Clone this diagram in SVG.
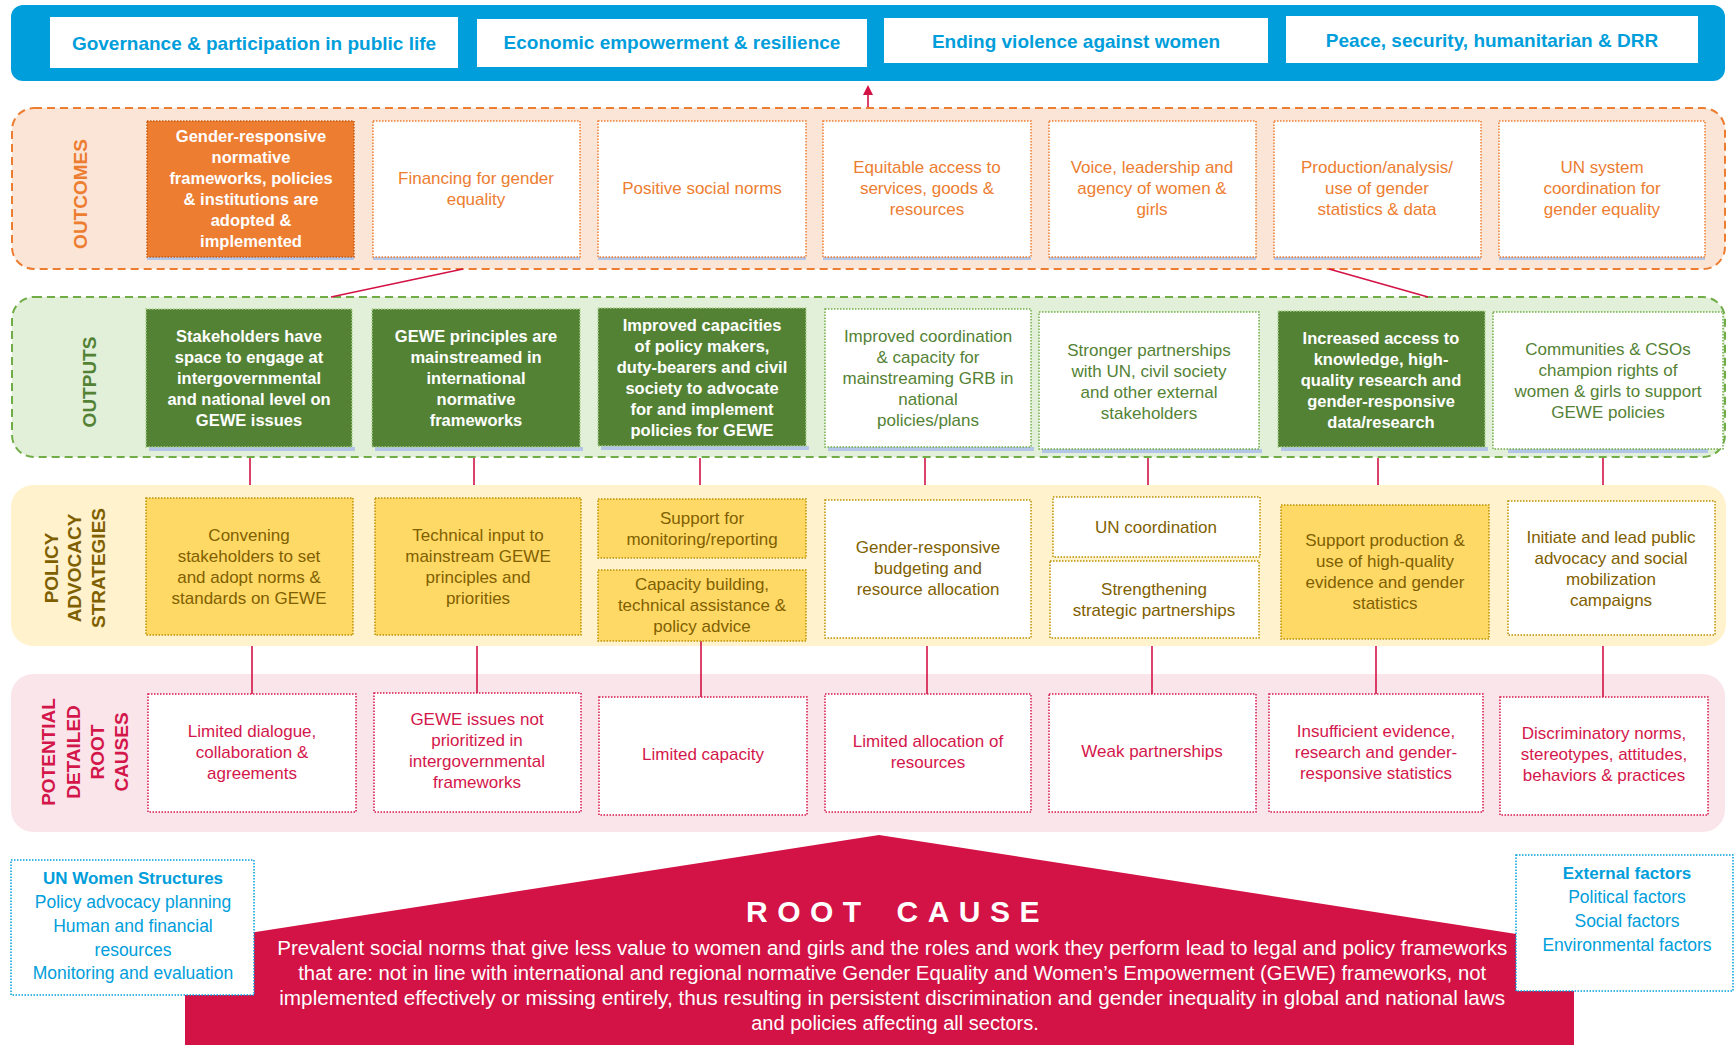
<svg xmlns="http://www.w3.org/2000/svg" width="1736" height="1045" viewBox="0 0 1736 1045">
<defs>
<marker id="arr" markerWidth="10" markerHeight="10" refX="5" refY="5" orient="auto" markerUnits="userSpaceOnUse">
<path d="M0,0 L10,5 L0,10 z" fill="#D31245"/>
</marker>
<style>
text{font-family:'Liberation Sans',Arial,sans-serif;text-anchor:middle}
.goal{font-weight:bold;font-size:19px;fill:#009EDB}
.lab{font-weight:bold;font-size:19px}
.bw{font-weight:bold;font-size:16.5px;fill:#FFFFFF}
.oc{font-size:17px;fill:#ED7D31}
.op{font-size:17px;fill:#548235}
.st{font-size:17px;fill:#7F6000}
.rc{font-size:17px;fill:#D4174B}
.box{stroke-width:1.5;stroke-dasharray:1.5 1.5}
.ocw{fill:#FFFFFF;stroke:#ED7D31}
.opw{fill:#FFFFFF;stroke:#70AD47}
.opg{fill:#548235;stroke:#A9D18E}
.sty{fill:#FFD966;stroke:#BF9000}
.stw{fill:#FFFFFF;stroke:#BF9000}
.rcw{fill:#FFFFFF;stroke:#D4174B}
.sh{fill:#B4C6E7}
.con{stroke:#D31245;stroke-width:1.6;fill:none}
.blue{fill:#009EDB;font-size:17.5px}
</style>
</defs>
<rect width="1736" height="1045" fill="#FFFFFF"/>

<!-- top goals bar -->
<g id="impact-bar">
<rect x="11" y="5" width="1714" height="76" rx="12" fill="#009EDB"/>
</g>
<g id="goal-governance"><rect x="50" y="17" width="408" height="51" fill="#FFFFFF"/><text class="goal" x="254" y="50">Governance &amp; participation in public life</text></g>
<g id="goal-economic"><rect x="477" y="19" width="390" height="48" fill="#FFFFFF"/><text class="goal" x="672" y="49">Economic empowerment &amp; resilience</text></g>
<g id="goal-evaw"><rect x="884" y="18" width="384" height="45" fill="#FFFFFF"/><text class="goal" x="1076" y="48">Ending violence against women</text></g>
<g id="goal-peace"><rect x="1286" y="16" width="412" height="47" fill="#FFFFFF"/><text class="goal" x="1492" y="47">Peace, security, humanitarian &amp; DRR</text></g>

<!-- bands -->
<g id="band-outcomes">
<rect x="12" y="108" width="1713" height="161" rx="22" fill="#FBE5D6" stroke="#ED7D31" stroke-width="2" stroke-dasharray="8 5"/>
<text class="lab" fill="#ED7D31" transform="rotate(-90)" x="-194" y="87">OUTCOMES</text>
</g>
<g id="band-outputs">
<rect x="12" y="297" width="1713" height="160" rx="22" fill="#E2F0D9" stroke="#70AD47" stroke-width="2" stroke-dasharray="8 5"/>
<text class="lab" fill="#548235" transform="rotate(-90)" x="-382" y="96">OUTPUTS</text>
</g>
<g id="band-strategies">
<rect x="11" y="485" width="1715" height="161" rx="22" fill="#FFF2CC"/>
<text class="lab" fill="#7F6000" transform="rotate(-90)" x="-568" y="58">POLICY</text>
<text class="lab" fill="#7F6000" transform="rotate(-90)" x="-568" y="81">ADVOCACY</text>
<text class="lab" fill="#7F6000" transform="rotate(-90)" x="-568" y="105">STRATEGIES</text>
</g>
<g id="band-rootcauses">
<rect x="11" y="674" width="1714" height="158" rx="22" fill="#F9E5EA"/>
<text class="lab" fill="#D4174B" transform="rotate(-90)" x="-752" y="55">POTENTIAL</text>
<text class="lab" fill="#D4174B" transform="rotate(-90)" x="-752" y="80">DETAILED</text>
<text class="lab" fill="#D4174B" transform="rotate(-90)" x="-752" y="104">ROOT</text>
<text class="lab" fill="#D4174B" transform="rotate(-90)" x="-752" y="128">CAUSES</text>
</g>

<!-- connectors -->
<g id="connectors">
<line class="con" x1="868" y1="107" x2="868" y2="90" marker-end="url(#arr)"/>
<line class="con" x1="463" y1="269" x2="331" y2="297"/>
<line class="con" x1="1329" y1="269" x2="1428" y2="297"/>
<line class="con" x1="250" y1="458" x2="250" y2="485"/>
<line class="con" x1="474" y1="458" x2="474" y2="485"/>
<line class="con" x1="700" y1="458" x2="700" y2="485"/>
<line class="con" x1="925" y1="458" x2="925" y2="485"/>
<line class="con" x1="1148" y1="458" x2="1148" y2="485"/>
<line class="con" x1="1378" y1="458" x2="1378" y2="485"/>
<line class="con" x1="1603" y1="458" x2="1603" y2="485"/>
<line class="con" x1="252" y1="646" x2="252" y2="694"/>
<line class="con" x1="477" y1="646" x2="477" y2="693"/>
<line class="con" x1="701" y1="641" x2="701" y2="697"/>
<line class="con" x1="927" y1="646" x2="927" y2="694"/>
<line class="con" x1="1152" y1="646" x2="1152" y2="694"/>
<line class="con" x1="1376" y1="646" x2="1376" y2="694"/>
<line class="con" x1="1603" y1="646" x2="1603" y2="697"/>
</g>

<!-- outcomes -->
<g id="outcome-1"><rect class="sh" x="147" y="256" width="207" height="4"/><rect class="box" x="147" y="121" width="207" height="136" fill="#ED7D31" stroke="#C55A11"/>
<text class="bw"><tspan x="251" y="142">Gender-responsive</tspan><tspan x="251" y="163">normative</tspan><tspan x="251" y="184">frameworks, policies</tspan><tspan x="251" y="205">&amp; institutions are</tspan><tspan x="251" y="226">adopted &amp;</tspan><tspan x="251" y="247">implemented</tspan></text></g>
<g id="outcome-2"><rect class="sh" x="373" y="256" width="207" height="4"/><rect class="box ocw" x="373" y="121" width="207" height="136"/>
<text class="oc"><tspan x="476" y="184">Financing for gender</tspan><tspan x="476" y="205">equality</tspan></text></g>
<g id="outcome-3"><rect class="sh" x="598" y="256" width="208" height="4"/><rect class="box ocw" x="598" y="121" width="208" height="136"/>
<text class="oc"><tspan x="702" y="194">Positive social norms</tspan></text></g>
<g id="outcome-4"><rect class="sh" x="823" y="256" width="208" height="4"/><rect class="box ocw" x="823" y="121" width="208" height="136"/>
<text class="oc"><tspan x="927" y="173">Equitable access to</tspan><tspan x="927" y="194">services, goods &amp;</tspan><tspan x="927" y="215">resources</tspan></text></g>
<g id="outcome-5"><rect class="sh" x="1049" y="256" width="207" height="4"/><rect class="box ocw" x="1049" y="121" width="207" height="136"/>
<text class="oc"><tspan x="1152" y="173">Voice, leadership and</tspan><tspan x="1152" y="194">agency of women &amp;</tspan><tspan x="1152" y="215">girls</tspan></text></g>
<g id="outcome-6"><rect class="sh" x="1274" y="256" width="207" height="4"/><rect class="box ocw" x="1274" y="121" width="207" height="136"/>
<text class="oc"><tspan x="1377" y="173">Production/analysis/</tspan><tspan x="1377" y="194">use of gender</tspan><tspan x="1377" y="215">statistics &amp; data</tspan></text></g>
<g id="outcome-7"><rect class="sh" x="1499" y="256" width="206" height="4"/><rect class="box ocw" x="1499" y="121" width="206" height="136"/>
<text class="oc"><tspan x="1602" y="173">UN system</tspan><tspan x="1602" y="194">coordination for</tspan><tspan x="1602" y="215">gender equality</tspan></text></g>

<!-- outputs -->
<g id="output-1"><rect class="sh" x="149" y="447" width="206" height="4"/><rect class="box opg" x="146" y="309" width="206" height="138"/>
<text class="bw"><tspan x="249" y="342">Stakeholders have</tspan><tspan x="249" y="363">space to engage at</tspan><tspan x="249" y="384">intergovernmental</tspan><tspan x="249" y="405">and national level on</tspan><tspan x="249" y="426">GEWE issues</tspan></text></g>
<g id="output-2"><rect class="sh" x="375" y="447" width="208" height="4"/><rect class="box opg" x="372" y="309" width="208" height="138"/>
<text class="bw"><tspan x="476" y="342">GEWE principles are</tspan><tspan x="476" y="363">mainstreamed in</tspan><tspan x="476" y="384">international</tspan><tspan x="476" y="405">normative</tspan><tspan x="476" y="426">frameworks</tspan></text></g>
<g id="output-3"><rect class="sh" x="601" y="446" width="208" height="4"/><rect class="box opg" x="598" y="308" width="208" height="138"/>
<text class="bw"><tspan x="702" y="331">Improved capacities</tspan><tspan x="702" y="352">of policy makers,</tspan><tspan x="702" y="373">duty-bearers and civil</tspan><tspan x="702" y="394">society to advocate</tspan><tspan x="702" y="415">for and implement</tspan><tspan x="702" y="436">policies for GEWE</tspan></text></g>
<g id="output-4"><rect class="sh" x="828" y="447" width="206" height="4"/><rect class="box opw" x="825" y="309" width="206" height="138"/>
<text class="op"><tspan x="928" y="342">Improved coordination</tspan><tspan x="928" y="363">&amp; capacity for</tspan><tspan x="928" y="384">mainstreaming GRB in</tspan><tspan x="928" y="405">national</tspan><tspan x="928" y="426">policies/plans</tspan></text></g>
<g id="output-5"><rect class="sh" x="1042" y="449" width="220" height="4"/><rect class="box opw" x="1039" y="312" width="220" height="137"/>
<text class="op"><tspan x="1149" y="356">Stronger partnerships</tspan><tspan x="1149" y="377">with UN, civil society</tspan><tspan x="1149" y="398">and other external</tspan><tspan x="1149" y="419">stakeholders</tspan></text></g>
<g id="output-6"><rect class="sh" x="1281" y="447" width="207" height="4"/><rect class="box opg" x="1278" y="311" width="207" height="136"/>
<text class="bw"><tspan x="1381" y="344">Increased access to</tspan><tspan x="1381" y="365">knowledge, high-</tspan><tspan x="1381" y="386">quality research and</tspan><tspan x="1381" y="407">gender-responsive</tspan><tspan x="1381" y="428">data/research</tspan></text></g>
<g id="output-7"><rect class="sh" x="1508" y="449" width="200" height="4"/><rect class="box opw" x="1493" y="312" width="230" height="137"/>
<text class="op"><tspan x="1608" y="355">Communities &amp; CSOs</tspan><tspan x="1608" y="376">champion rights of</tspan><tspan x="1608" y="397">women &amp; girls to support</tspan><tspan x="1608" y="418">GEWE policies</tspan></text></g>

<!-- strategies -->
<g id="strategy-1"><rect class="box sty" x="146" y="498" width="207" height="137"/>
<text class="st"><tspan x="249" y="541">Convening</tspan><tspan x="249" y="562">stakeholders to set</tspan><tspan x="249" y="583">and adopt norms &amp;</tspan><tspan x="249" y="604">standards on GEWE</tspan></text></g>
<g id="strategy-2"><rect class="box sty" x="375" y="498" width="206" height="137"/>
<text class="st"><tspan x="478" y="541">Technical input to</tspan><tspan x="478" y="562">mainstream GEWE</tspan><tspan x="478" y="583">principles and</tspan><tspan x="478" y="604">priorities</tspan></text></g>
<g id="strategy-3a"><rect class="box sty" x="598" y="499" width="208" height="59"/>
<text class="st"><tspan x="702" y="524">Support for</tspan><tspan x="702" y="545">monitoring/reporting</tspan></text></g>
<g id="strategy-3b"><rect class="box sty" x="598" y="570" width="208" height="71"/>
<text class="st"><tspan x="702" y="590">Capacity building,</tspan><tspan x="702" y="611">technical assistance &amp;</tspan><tspan x="702" y="632">policy advice</tspan></text></g>
<g id="strategy-4"><rect class="box stw" x="825" y="500" width="206" height="138"/>
<text class="st"><tspan x="928" y="553">Gender-responsive</tspan><tspan x="928" y="574">budgeting and</tspan><tspan x="928" y="595">resource allocation</tspan></text></g>
<g id="strategy-5a"><rect class="box stw" x="1053" y="497" width="207" height="60"/>
<text class="st"><tspan x="1156" y="533">UN coordination</tspan></text></g>
<g id="strategy-5b"><rect class="box stw" x="1050" y="561" width="209" height="77"/>
<text class="st"><tspan x="1154" y="595">Strengthening</tspan><tspan x="1154" y="616">strategic partnerships</tspan></text></g>
<g id="strategy-6"><rect class="box sty" x="1281" y="505" width="208" height="134"/>
<text class="st"><tspan x="1385" y="546">Support production &amp;</tspan><tspan x="1385" y="567">use of high-quality</tspan><tspan x="1385" y="588">evidence and gender</tspan><tspan x="1385" y="609">statistics</tspan></text></g>
<g id="strategy-7"><rect class="box stw" x="1508" y="501" width="207" height="134"/>
<text class="st"><tspan x="1611" y="543">Initiate and lead public</tspan><tspan x="1611" y="564">advocacy and social</tspan><tspan x="1611" y="585">mobilization</tspan><tspan x="1611" y="606">campaigns</tspan></text></g>

<!-- root causes -->
<g id="rootcause-1"><rect class="box rcw" x="148" y="694" width="208" height="118"/>
<text class="rc"><tspan x="252" y="737">Limited dialogue,</tspan><tspan x="252" y="758">collaboration &amp;</tspan><tspan x="252" y="779">agreements</tspan></text></g>
<g id="rootcause-2"><rect class="box rcw" x="374" y="693" width="207" height="119"/>
<text class="rc"><tspan x="477" y="725">GEWE issues not</tspan><tspan x="477" y="746">prioritized in</tspan><tspan x="477" y="767">intergovernmental</tspan><tspan x="477" y="788">frameworks</tspan></text></g>
<g id="rootcause-3"><rect class="box rcw" x="599" y="697" width="208" height="118"/>
<text class="rc"><tspan x="703" y="760">Limited capacity</tspan></text></g>
<g id="rootcause-4"><rect class="box rcw" x="825" y="694" width="206" height="118"/>
<text class="rc"><tspan x="928" y="747">Limited allocation of</tspan><tspan x="928" y="768">resources</tspan></text></g>
<g id="rootcause-5"><rect class="box rcw" x="1049" y="694" width="207" height="118"/>
<text class="rc"><tspan x="1152" y="757">Weak partnerships</tspan></text></g>
<g id="rootcause-6"><rect class="box rcw" x="1269" y="694" width="214" height="118"/>
<text class="rc"><tspan x="1376" y="737">Insufficient evidence,</tspan><tspan x="1376" y="758">research and gender-</tspan><tspan x="1376" y="779">responsive statistics</tspan></text></g>
<g id="rootcause-7"><rect class="box rcw" x="1500" y="697" width="208" height="118"/>
<text class="rc"><tspan x="1604" y="739">Discriminatory norms,</tspan><tspan x="1604" y="760">stereotypes, attitudes,</tspan><tspan x="1604" y="781">behaviors &amp; practices</tspan></text></g>

<!-- root cause -->
<g id="root-cause">
<polygon points="185,1045 185,943 879,835 1574,943 1574,1045" fill="#D31245"/>
<text x="746" y="922" style="text-anchor:start;font-weight:bold;font-size:30px;letter-spacing:9.5px;word-spacing:8px" fill="#FFFFFF">ROOT CAUSE</text>
<text fill="#FFFFFF" style="font-size:20px">
<tspan x="895" y="955" textLength="1230" lengthAdjust="spacingAndGlyphs">Prevalent social norms that give less value to women and girls and the roles and work they perform lead to legal and policy frameworks</tspan>
<tspan x="895" y="980" textLength="1188" lengthAdjust="spacingAndGlyphs">that are: not in line with international and regional normative Gender Equality and Women’s Empowerment (GEWE) frameworks, not</tspan>
<tspan x="895" y="1005" textLength="1226" lengthAdjust="spacingAndGlyphs">implemented effectively or missing entirely, thus resulting in persistent discrimination and gender inequality in global and national laws</tspan>
<tspan x="895" y="1030">and policies affecting all sectors.</tspan>
</text>
</g>

<g id="un-women-structures">
<rect x="11" y="860" width="243" height="135" fill="#FFFFFF" stroke="#009EDB" stroke-width="1.5" stroke-dasharray="1.5 1.5"/>
<text class="blue" style="font-weight:bold;font-size:17px" x="133" y="884">UN Women Structures</text>
<text class="blue" x="133" y="908">Policy advocacy planning</text>
<text class="blue" x="133" y="932">Human and financial</text>
<text class="blue" x="133" y="956">resources</text>
<text class="blue" x="133" y="979">Monitoring and evaluation</text>
</g>
<g id="external-factors">
<rect x="1516" y="855" width="217" height="136" fill="#FFFFFF" stroke="#009EDB" stroke-width="1.5" stroke-dasharray="1.5 1.5"/>
<text class="blue" style="font-weight:bold;font-size:17px" x="1627" y="879">External factors</text>
<text class="blue" x="1627" y="903">Political factors</text>
<text class="blue" x="1627" y="927">Social factors</text>
<text class="blue" x="1627" y="951">Environmental factors</text>
</g>
</svg>
